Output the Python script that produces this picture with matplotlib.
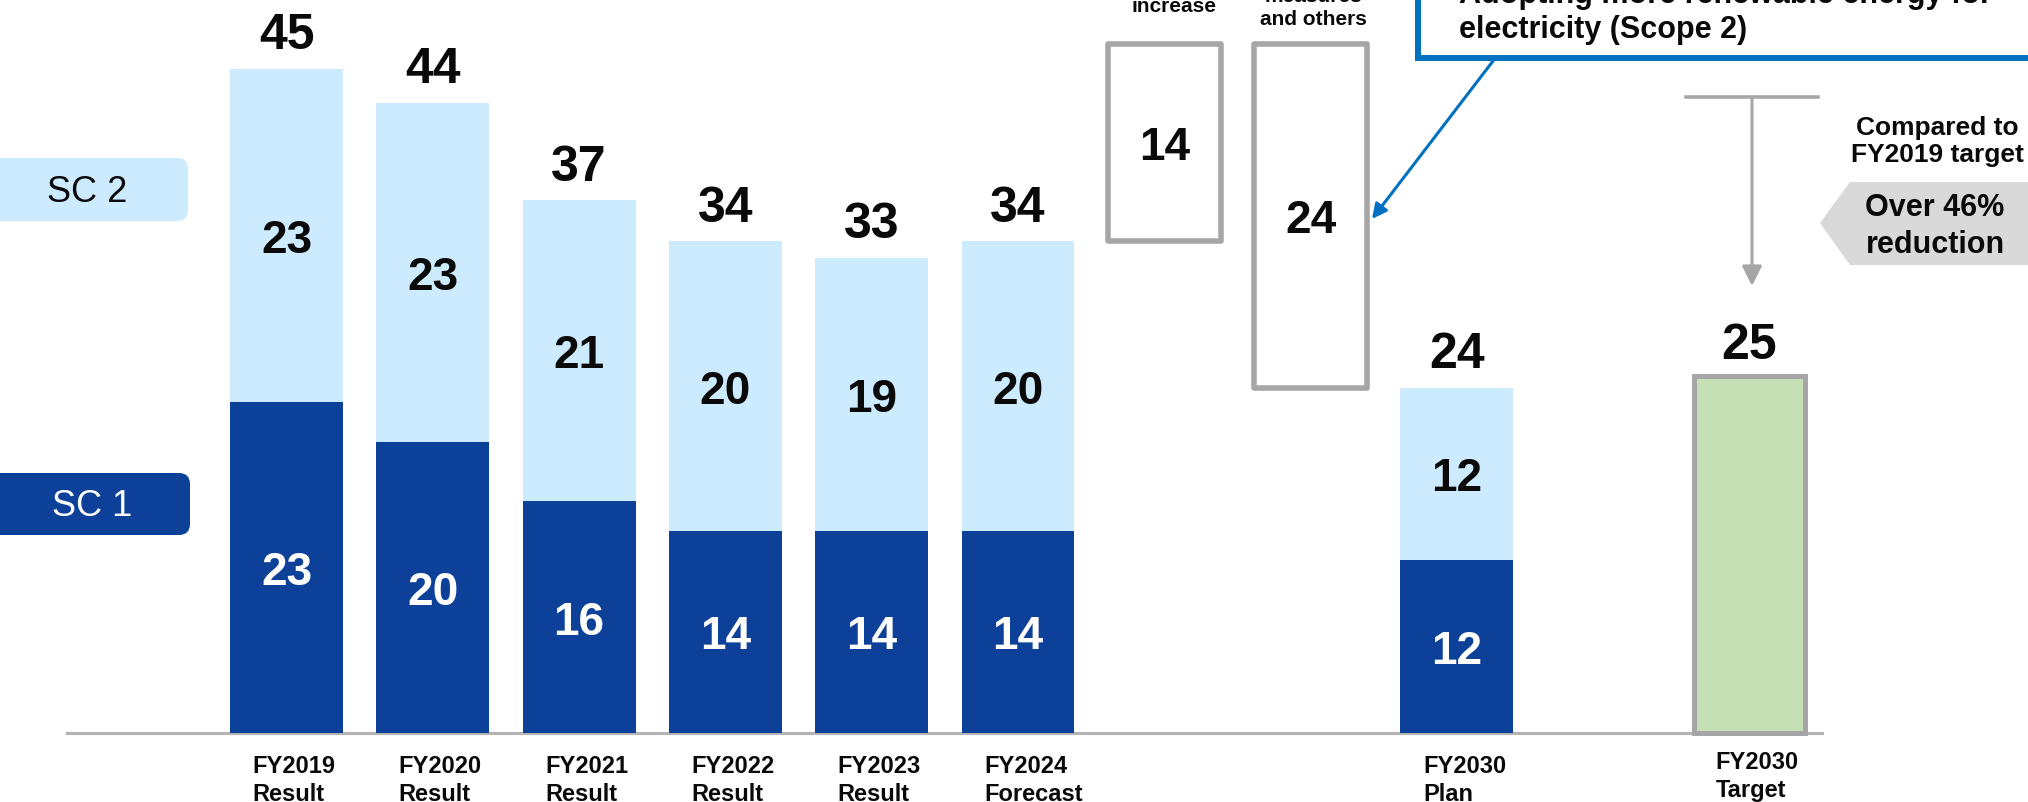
import matplotlib
matplotlib.use('Agg')
import matplotlib.pyplot as plt
from matplotlib.transforms import Affine2D
from matplotlib.patches import FancyBboxPatch, Rectangle, Polygon, FancyArrowPatch

plt.rcParams['font.family'] = ['Liberation Sans', 'DejaVu Sans']

# ---------------- data ----------------
bar_names = ['FY2019\nResult', 'FY2020\nResult', 'FY2021\nResult', 'FY2022\nResult',
             'FY2023\nResult', 'FY2024\nForecast', 'FY2030\nPlan']
bar_pos = [0, 1, 2, 3, 4, 5, 8]
sc1 = [22.4, 19.7, 15.7, 13.7, 13.7, 13.7, 11.7]
sc2 = [22.6, 23.0, 20.4, 19.6, 18.5, 19.6, 11.7]
sc1_labels = ['23', '20', '16', '14', '14', '14', '12']
sc2_labels = ['23', '23', '21', '20', '19', '20', '12']
total_labels = ['45', '44', '37', '34', '33', '34', '24']

step_pos = [6, 7]
step_values = [13.4, -23.3]
step_labels = ['14', '24']

target_name = 'FY2030\nTarget'
target_pos = 10
target_value = 24.2
target_label = '25'

# ---------------- style ----------------
DARK = '#0D4199'
LIGHT = '#CCEBFE'
GREEN = '#C5E0B4'
GRAY = '#A6A6A6'
BLUE = '#0070C0'
TXT = '#0A0A0A'

W, H = 2028, 803
fig = plt.figure(figsize=(W / 100, H / 100), dpi=100)
ax = fig.add_axes([0, 0, 1, 1])
X0, DX = 286.5, 146.3          # pixel of index 0, pixels per category
Y0, DY = 734.0, 14.76          # pixel of value 0, pixels per unit
ax.set_xlim(-X0 / DX, (W - X0) / DX)
ax.set_ylim(-(H - Y0) / DY, Y0 / DY)
ax.axis('off')

# pixel transform (origin top-left) for decorations
PX = Affine2D().scale(1 / W, -1 / H).translate(0, 1) + fig.transFigure

bw = 0.772

# baseline
ax.axhline(0, xmin=67 / W, xmax=1822 / W, color='#B4B4B4', lw=2.2, zorder=1)

# stacked bars
totals = [a + b for a, b in zip(sc1, sc2)]
ax.bar(bar_pos, sc1, width=bw, color=DARK, zorder=2)
ax.bar(bar_pos, sc2, bottom=sc1, width=bw, color=LIGHT, zorder=2)

for p, a, b, la, lb, lt in zip(bar_pos, sc1, sc2, sc1_labels, sc2_labels, total_labels):
    ax.text(p, a / 2 - 1.11, la, ha='center', va='baseline', fontsize=33,
            fontweight='bold', color='white', zorder=3)
    ax.text(p, a + b / 2 - 1.11, lb, ha='center', va='baseline', fontsize=33,
            fontweight='bold', color=TXT, zorder=3)
    ax.text(p, a + b + 1.4, lt, ha='center', va='baseline', fontsize=36,
            fontweight='bold', color=TXT, zorder=3)

# waterfall step boxes
running = totals[5]
for p, v, lab in zip(step_pos, step_values, step_labels):
    bottom = running if v > 0 else running + v
    ax.bar(p, abs(v), bottom=bottom, width=0.769, color='white', edgecolor=GRAY,
           linewidth=4, joinstyle='round', zorder=2)
    ax.text(p, bottom + abs(v) / 2 - 1.11, lab, ha='center', va='baseline',
            fontsize=33, fontweight='bold', color=TXT, zorder=3)
    running += v

# target bar
ax.bar(target_pos, target_value, width=0.752, color=GREEN, edgecolor=GRAY,
       linewidth=3.6, zorder=2)
ax.text(target_pos, target_value + 1.2, target_label, ha='center', va='baseline',
        fontsize=36, fontweight='bold', color=TXT, zorder=3)

# x labels (two lines, left aligned)
for p, name in zip(bar_pos + [target_pos], bar_names + [target_name]):
    l1, l2 = name.split('\n')
    xl = p - 34 / DX
    dy = 0.25 if p == target_pos else 0.0
    ax.text(xl, -(773 - Y0) / DY + dy, l1, ha='left', va='baseline', fontsize=17,
            fontweight='bold', color=TXT)
    ax.text(xl, -(801 - Y0) / DY + dy, l2, ha='left', va='baseline', fontsize=17,
            fontweight='bold', color=TXT)

# ---------------- decorations in pixel coords ----------------
# SC labels
fig.patches.append(FancyBboxPatch((-40, 159), 228, 63, boxstyle='round,pad=0,rounding_size=11',
                                  transform=PX, facecolor=LIGHT, edgecolor='none'))
fig.patches.append(FancyBboxPatch((-40, 474), 230, 62, boxstyle='round,pad=0,rounding_size=11',
                                  transform=PX, facecolor=DARK, edgecolor='none'))
fig.text(87, 192, 'SC 2', transform=PX, ha='center', va='center', fontsize=26, color=TXT)
fig.text(92, 506, 'SC 1', transform=PX, ha='center', va='center', fontsize=26, color='white')

# texts above step boxes (cropped at top in the reference)
fig.text(1174, 12, 'increase', transform=PX, ha='center', va='baseline', fontsize=15,
         fontweight='bold', color=TXT)
fig.text(1313, 2, 'measures', transform=PX, ha='center', va='baseline', fontsize=15,
         fontweight='bold', color=TXT)
fig.text(1313, 25, 'and others', transform=PX, ha='center', va='baseline', fontsize=15,
         fontweight='bold', color=TXT)

# callout box
fig.patches.append(Rectangle((1418, -60), 700, 119, transform=PX, facecolor='white',
                             edgecolor=BLUE, linewidth=4.3, zorder=4))
fig.text(1459, 3, 'Adopting more renewable energy for', transform=PX, ha='left',
         va='baseline', fontsize=22, fontweight='bold', color=TXT, zorder=5)
fig.text(1459, 38, 'electricity (Scope 2)', transform=PX, ha='left',
         va='baseline', fontsize=22, fontweight='bold', color=TXT, zorder=5)
fig.patches.append(FancyArrowPatch((1493, 62), (1372, 220), transform=PX,
                                   arrowstyle='-|>', mutation_scale=22, color=BLUE,
                                   lw=2.2, shrinkA=0, shrinkB=0, zorder=5))

# gray reduction arrow
fig.lines.append(plt.Line2D([1686, 1818], [98, 98], transform=PX, color=GRAY, lw=2.6))
fig.patches.append(FancyArrowPatch((1752, 98), (1752, 287), transform=PX,
                                   arrowstyle='-|>', mutation_scale=30, color=GRAY,
                                   lw=2.2, shrinkA=0, shrinkB=0))
fig.text(1937, 135, 'Compared to', transform=PX, ha='center', va='baseline', fontsize=19,
         fontweight='bold', color=TXT)
fig.text(1937, 162, 'FY2019 target', transform=PX, ha='center', va='baseline', fontsize=19,
         fontweight='bold', color=TXT)
fig.patches.append(Polygon([(1820, 224), (1850, 183), (2060, 183), (2060, 266), (1850, 266)],
                           closed=True, transform=PX, facecolor='#D9D9D9', edgecolor='none'))
fig.text(1935, 216, 'Over 46%', transform=PX, ha='center', va='baseline', fontsize=22,
         fontweight='bold', color=TXT)
fig.text(1935, 253, 'reduction', transform=PX, ha='center', va='baseline', fontsize=22,
         fontweight='bold', color=TXT)

fig.savefig('out.png', dpi=100)
